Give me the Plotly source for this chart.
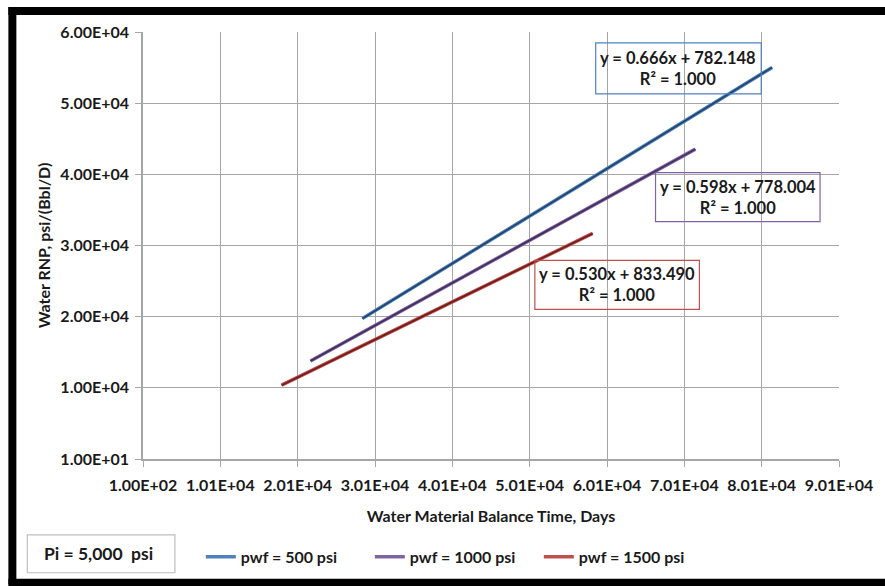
import plotly.graph_objects as go

# Water RNP vs. water material balance time, one straight-line fit per flowing pressure
series_names = ["pwf = 500 psi", "pwf = 1000 psi", "pwf = 1500 psi"]
x_start = [28470, 21760, 18020]
x_end = [81460, 71530, 58250]
slopes = [0.666, 0.598, 0.530]
intercepts = [782.148, 778.004, 833.490]
r_squared = [1.000, 1.000, 1.000]

x_tick_vals = [100 + 10000 * i for i in range(10)]
x_tick_text = ["1.00E+02", "1.01E+04", "2.01E+04", "3.01E+04", "4.01E+04",
               "5.01E+04", "6.01E+04", "7.01E+04", "8.01E+04", "9.01E+04"]
y_tick_vals = [10 + 10000 * i for i in range(7)]
y_tick_text = ["1.00E+01", "1.00E+04", "2.00E+04", "3.00E+04",
               "4.00E+04", "5.00E+04", "6.00E+04"]

fit_colors = ["#4F81BD", "#8064A2", "#C0504D"]
core_colors = ["#1F3F66", "#3F2D5C", "#6E1C1A"]
FONT = "Lato"
TXT = "#1a1a1a"
FS = 16

fig = go.Figure()
for name, x0, x1, m, b, fc, cc in zip(series_names, x_start, x_end, slopes,
                                       intercepts, fit_colors, core_colors):
    xs = [x0, x1]
    ys = [m * x + b for x in xs]
    fig.add_trace(go.Scatter(x=xs, y=ys, mode="lines", name=name,
                             line=dict(color=fc, width=3.5)))
    fig.add_trace(go.Scatter(x=xs, y=ys, mode="lines", showlegend=False,
                             hoverinfo="skip", line=dict(color=cc, width=1.6)))

# plot-area edges in pixels, used to place the boxes in paper coordinates
L, R, T, B = 143, 841, 32, 460
def px(x):
    return (x - L) / (R - L)
def py(y):
    return (B - y) / (B - T)

boxes = [(597, 763, 43, 94), (657, 822, 173, 222), (536, 701, 261, 310)]
for (bx0, bx1, by0, by1), m, b, r2, fc in zip(boxes, slopes, intercepts, r_squared, fit_colors):
    fig.add_shape(type="rect", xref="paper", yref="paper",
                  x0=px(bx0), x1=px(bx1), y0=py(by1), y1=py(by0),
                  line=dict(color=fc, width=1.2), fillcolor="rgba(0,0,0,0)")
    fig.add_annotation(xref="paper", yref="paper",
                       x=px((bx0 + bx1) / 2), y=py((by0 + by1) / 2),
                       xanchor="center", yanchor="middle",
                       text=f"y = {m:.3f}x + {b:.3f}<br>R² = {r2:.3f}",
                       showarrow=False, align="center",
                       font=dict(family=FONT, size=16.5, color=TXT, weight="bold"))

# Pi note box
fig.add_shape(type="rect", xref="paper", yref="paper",
              x0=px(27), x1=px(175), y0=py(574), y1=py(536),
              line=dict(color="#bfbfbf", width=1.2), fillcolor="white")
fig.add_annotation(xref="paper", yref="paper", x=px(98), y=py(555),
                   xanchor="center", yanchor="middle",
                   text="Pi = 5,000  psi", showarrow=False,
                   font=dict(family=FONT, size=17.5, color=TXT, weight="bold"))

# black frame bands
for (fx0, fx1, fy0, fy1) in [(8, 16, 7, 586), (8, 890, 7, 15), (8, 890, 580, 590)]:
    fig.add_shape(type="rect", xref="paper", yref="paper",
                  x0=px(fx0), x1=px(fx1), y0=py(fy1), y1=py(fy0),
                  line=dict(width=0), fillcolor="black", layer="above")

axis_common = dict(showline=True, linecolor="#a6a6a6", linewidth=1.5,
                   showgrid=True, gridcolor="#a6a6a6", gridwidth=1.2,
                   ticks="outside", ticklen=6, tickcolor="#a6a6a6", tickwidth=1.2,
                   zeroline=False, mirror=False,
                   tickfont=dict(family=FONT, size=FS, color=TXT, weight="bold"))

fig.update_xaxes(range=[100, 90100], tickvals=x_tick_vals, ticktext=x_tick_text,
                 ticklabelstandoff=5,
                 title=dict(text="Water Material Balance Time, Days", standoff=18,
                            font=dict(family=FONT, size=FS, color=TXT, weight="bold")),
                 **axis_common)
fig.update_yaxes(range=[10, 60010], tickvals=y_tick_vals, ticktext=y_tick_text,
                 ticklabelstandoff=3,
                 title=dict(text="Water RNP, psi/(Bbl/D)", standoff=6,
                            font=dict(family=FONT, size=FS, color=TXT, weight="bold")),
                 **axis_common)

fig.update_layout(
    width=885, height=586,
    margin=dict(l=L, r=885 - R, t=T, b=586 - B),
    paper_bgcolor="white", plot_bgcolor="white",
    font=dict(family=FONT, color=TXT),
    legend=dict(orientation="h", x=px(201), y=py(558), xanchor="left", yanchor="middle",
                font=dict(family=FONT, size=FS, color=TXT, weight="bold"),
                entrywidth=124, entrywidthmode="pixels",
                bgcolor="rgba(0,0,0,0)", borderwidth=0),
)

fig.write_html("out.html")
